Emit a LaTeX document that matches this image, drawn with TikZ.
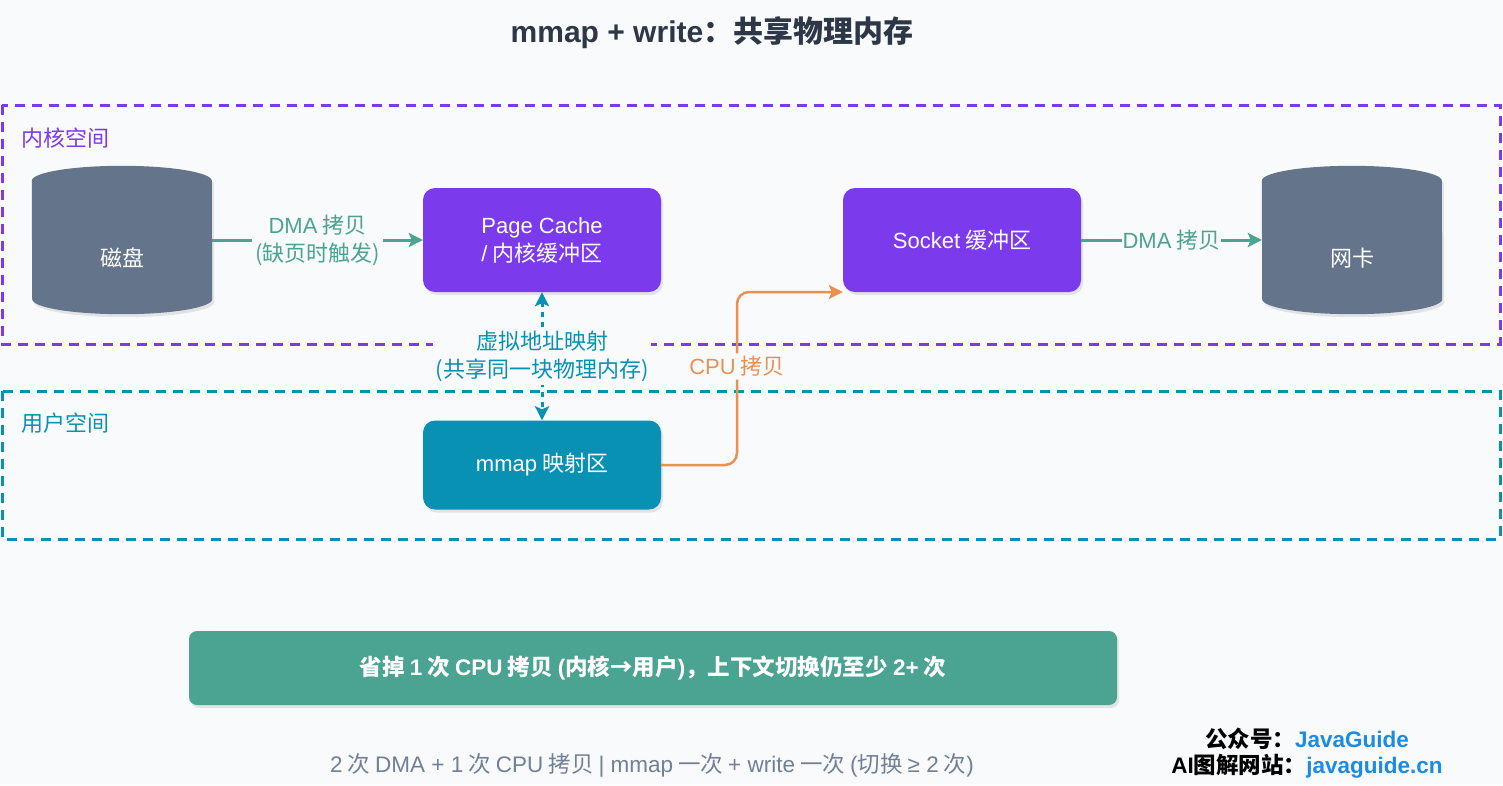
\documentclass[tikz,border=0pt]{standalone}
\usepackage{fontspec}
\setmainfont{Noto Sans CJK SC}
\newfontfamily\enf{Liberation Sans}
\usepackage{tikz}
\usetikzlibrary{arrows.meta,shapes.geometric,shadows}
\definecolor{pagebg}{HTML}{F8FAFC}
\definecolor{kernel}{HTML}{7C3AED}
\definecolor{userc}{HTML}{0891B2}
\definecolor{slate}{HTML}{64748B}
\definecolor{dmagreen}{HTML}{4BA392}
\definecolor{cpuorange}{HTML}{EA9152}
\definecolor{titlec}{HTML}{2D3748}
\definecolor{footc}{HTML}{718096}
\definecolor{linkblue}{HTML}{1A8CE3}

\begin{document}
\begin{tikzpicture}[x=1pt,y=-1pt,
  every node/.style={font=\fontsize{22}{28}\selectfont,align=center},
  soft/.style={drop shadow={opacity=0.18,shadow xshift=2pt,shadow yshift=-3pt}},
  device/.style={rectangle,minimum width=180pt,minimum height=148pt,inner sep=0pt},
  buffer/.style={rectangle,rounded corners=12pt,fill=kernel,text=white,minimum width=238pt,minimum height=104pt,soft},
  region/.style={dash pattern=on 10pt off 7pt,line width=3pt},
  dma/.style={-{Stealth[length=14pt,width=14pt,inset=3pt]},line width=3pt,dmagreen},
  cpu/.style={-{Stealth[length=14pt,width=14pt,inset=3pt]},line width=2.5pt,cpuorange,rounded corners=12pt},
  vmap/.style={{Stealth[length=14pt,width=14pt,inset=3pt]}-{Stealth[length=14pt,width=14pt,inset=3pt]},line width=3pt,userc,dash pattern=on 5pt off 5pt},
  tag/.style={fill=pagebg,inner sep=3pt}
]
\useasboundingbox[fill=pagebg] (0,0) rectangle (1503,785);
\node[font=\fontsize{30}{34}\selectfont\bfseries,text=titlec] (title) at (712,33) {{\enf mmap + write}：共享物理内存};
\draw[region,kernel] (2,105) rectangle (1500,344);
\draw[region,userc] (2,391) rectangle (1500,539);
\node[anchor=west,text=kernel] (kspace) at (18,138) {内核空间};
\node[anchor=west,text=userc] (uspace) at (18,423) {用户空间};
\node[device] (disk) at (122,240) {};
\node[device] (nic) at (1352,240) {};
\foreach \dev in {disk,nic}
  \fill[slate,soft] ([yshift=-15pt]\dev.north west) arc[start angle=180,end angle=0,x radius=90pt,y radius=15pt]
    -- ([yshift=15pt]\dev.south east) arc[start angle=0,end angle=-180,x radius=90pt,y radius=15pt] -- cycle;
\node[text=white] (disktext) at ([yshift=-18pt]disk.center) {磁盘};
\node[text=white] (nictext) at ([yshift=-18pt]nic.center) {网卡};
\node[buffer] (pagecache) at (542,240) {{\enf Page Cache}\\{\enf /} 内核缓冲区};
\node[buffer] (socket) at (962,240) {{\enf Socket} 缓冲区};
\node[buffer,fill=userc,minimum height=89pt] (mmap) at (542,465) {{\enf mmap} 映射区};
\draw[dma] (disk.east) -- node[tag,text=dmagreen]{{\enf DMA} 拷贝\\({\enf }缺页时触发)} (pagecache.west);
\draw[dma] (socket.east) -- node[tag,text=dmagreen,inner sep=1pt]{{\enf DMA} 拷贝} (nic.west);
\draw[vmap] (pagecache.south) -- node[tag,text=userc]{虚拟地址映射\\(共享同一块物理内存)} (mmap.north);
\draw[cpu] (mmap.east) -- (737,465) -- node[pos=0.57,tag,text=cpuorange]{{\enf CPU} 拷贝} (737,292) -- ([yshift=-52pt]socket.west);
\node[rectangle,rounded corners=8pt,fill=dmagreen,text=white,font=\fontsize{22.5}{26}\selectfont\bfseries,minimum width=928pt,minimum height=74pt,soft] (summary) at (653,668) {省掉 {\enf 1} 次 {\enf CPU} 拷贝 {\enf (}内核→用户{\enf )}，上下文切换仍至少 {\enf 2+} 次};
\node[text=footc,font=\fontsize{22.5}{26}\selectfont] (footer) at (652,765) {{\enf 2} 次 {\enf DMA + 1} 次 {\enf CPU} 拷贝 {\enf | mmap} 一次 {\enf + write} 一次 {\enf (}切换 {\enf ≥ 2} 次{\enf )}};
\node[font=\fontsize{22.5}{26.5}\selectfont\bfseries] (mark) at (1307,753) {公众号：\textcolor{linkblue}{\enf JavaGuide}\\{\enf AI}图解网站：\textcolor{linkblue}{\enf javaguide.cn}};
\end{tikzpicture}
\end{document}
